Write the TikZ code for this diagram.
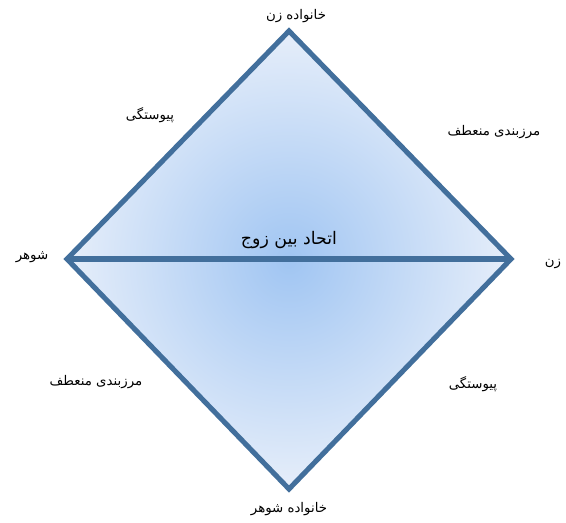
\documentclass[tikz,border=0pt]{standalone}
\usepackage{fontspec}
\newfontfamily\arabicfont[Script=Arabic]{DejaVu Sans}
\TeXXeTstate=1
\definecolor{edge}{RGB}{66,111,156}
\definecolor{inner}{RGB}{160,197,242}
\definecolor{outer}{RGB}{230,238,250}
\tikzset{
  lbl/.style={font=\arabicfont\fontsize{10}{12}\selectfont, inner sep=1pt},
  biglbl/.style={font=\arabicfont\fontsize{13}{15}\selectfont, inner sep=1pt},
  side/.style={draw=edge, line width=3.8pt, line join=miter, line cap=butt}
}
\begin{document}
\begin{tikzpicture}[x=0.75pt,y=-0.75pt]
\fill[white] (0,0) rectangle (566,522);
\useasboundingbox (0,0) rectangle (566,522);
\coordinate (T) at (289,31);
\coordinate (L) at (67,259);
\coordinate (R) at (511,259);
\coordinate (B) at (289,489);
\shade[inner color=inner, outer color=outer] (T) -- (R) -- (B) -- (L) -- cycle;
\draw[side] (T) -- (R) -- (B) -- (L) -- cycle;
\draw[side] (L) -- (R);
\node[lbl] (t1) at (296,16) {\beginR خانواده زن\endR};
\node[lbl] (t2) at (150,115) {\beginR پیوستگی\endR};
\node[lbl] (t3) at (494,132) {\beginR مرزبندی منعطف\endR};
\node[lbl] (t4) at (32,257) {\beginR شوهر\endR};
\node[biglbl] (t5) at (289,240) {\beginR اتحاد بین زوج\endR};
\node[lbl] (t6) at (553,264) {\beginR زن\endR};
\node[lbl] (t7) at (96,382) {\beginR مرزبندی منعطف\endR};
\node[lbl] (t8) at (473,384) {\beginR پیوستگی\endR};
\node[lbl] (t9) at (289,509) {\beginR خانواده شوهر\endR};
\end{tikzpicture}
\end{document}
